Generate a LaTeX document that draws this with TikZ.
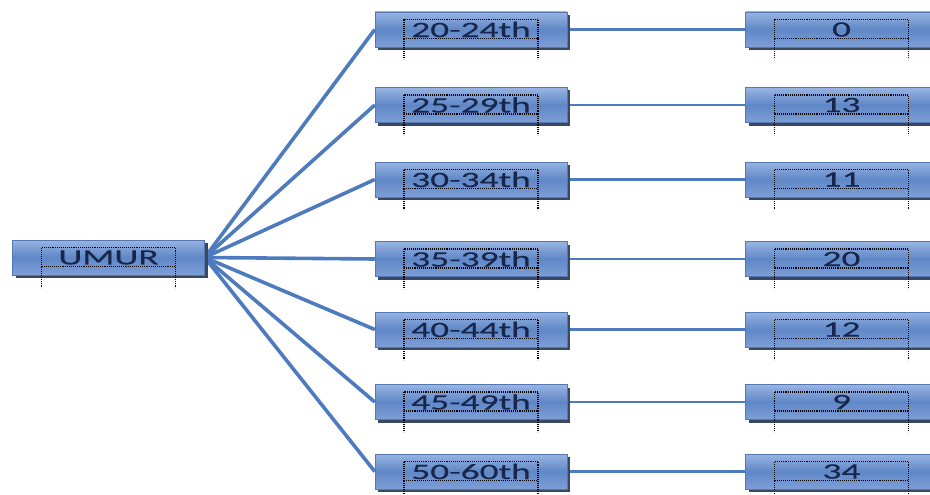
\documentclass[tikz,border=0pt]{standalone}
\usepackage{fontspec}
\setmainfont[FakeStretch=1.7,FakeBold=0.3]{Carlito}
\usepackage{tikz}
\usetikzlibrary{positioning,shadows,backgrounds}

\definecolor{boxtop}{HTML}{98B4E2}
\definecolor{boxmid}{HTML}{5F87C7}
\definecolor{boxbot}{HTML}{7E9FD6}
\definecolor{boxedge}{HTML}{5578B2}
\definecolor{boxshade}{HTML}{3A4862}
\definecolor{boxtext}{HTML}{17264A}
\definecolor{linkblue}{HTML}{4D7BBE}

\begin{document}
\begin{tikzpicture}
[
x=1pt, y=1pt,
box/.style={rectangle, draw=boxedge, line width=0.5pt, top color=boxtop, bottom color=boxbot, middle color=boxmid, minimum width=192pt, minimum height=35pt, inner sep=0pt, text=boxtext, font=\fontsize{22}{22}\selectfont, drop shadow={shadow xshift=3pt, shadow yshift=-3pt, fill=boxshade, opacity=1}},
fan/.style={draw=linkblue, line width=3.6pt},
link/.style={draw=linkblue, line width=2.5pt},
guide/.style={draw=black, line width=1.1pt, dash pattern=on 1.1pt off 1pt}
]
\useasboundingbox (0,0) rectangle (930,-495);
%Nodes
\node[box]  (umur)  at (108.5,-257.5)          {UMUR};
\node[box]  (a4)    [right=170pt of umur, yshift=-1.5pt] {35-39th};
\node[box]  (a3)    [above=44pt of a4]     {30-34th};
\node[box]  (a2)    [above=39pt of a3]     {25-29th};
\node[box]  (a1)    [above=40pt of a2]     {20-24th};
\node[box]  (a5)    [below=35pt of a4]     {40-44th};
\node[box]  (a6)    [below=37pt of a5]     {45-49th};
\node[box]  (a7)    [below=34pt of a6]     {50-60th};
\node[box]  (v1)    [right=178pt of a1]    {0};
\node[box]  (v2)    [right=178pt of a2]    {13};
\node[box]  (v3)    [right=178pt of a3]    {11};
\node[box]  (v4)    [right=178pt of a4]    {20};
\node[box]  (v5)    [right=178pt of a5]    {12};
\node[box]  (v6)    [right=178pt of a6]    {9};
\node[box]  (v7)    [right=178pt of a7]    {34};

%Text frames
\foreach \n in {umur,a1,a2,a3,a4,a5,a6,a7,v1,v2,v3,v4,v5,v6,v7}
{
\draw[guide] ([xshift=-67pt,yshift=10pt]\n.center) rectangle ([xshift=67pt,yshift=-9pt]\n.center);
\draw[guide] ([xshift=-67pt,yshift=-9pt]\n.center) -- ++(0,-21pt);
\draw[guide] ([xshift=67pt,yshift=-9pt]\n.center) -- ++(0,-21pt);
}

%Lines
\begin{scope}[on background layer]
\foreach \i in {1,...,7}
{
\path[fan]  (umur.east) -- (a\i.west);
\path[link] (a\i.east) -- (v\i.west);
}
\end{scope}
\end{tikzpicture}
\end{document}
